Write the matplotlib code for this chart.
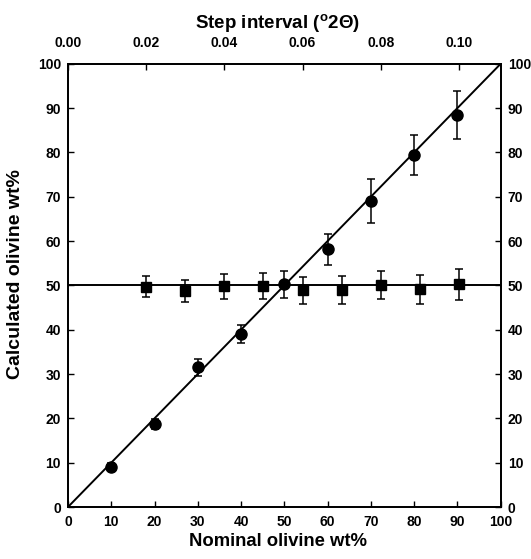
import matplotlib
matplotlib.use('Agg')
import matplotlib.pyplot as plt
import matplotlib as mpl

mpl.rcParams['font.family'] = 'Liberation Sans'
mpl.rcParams['mathtext.fontset'] = 'custom'
mpl.rcParams['mathtext.rm'] = 'Liberation Sans'
mpl.rcParams['mathtext.bf'] = 'Liberation Sans:bold'

# olivine wt% series (circles), bottom axis
nominal = [10, 20, 30, 40, 50, 60, 70, 80, 90]
calc_olv = [9.0, 18.7, 31.5, 39.1, 50.2, 58.1, 69.1, 79.4, 88.5]
calc_olv_err = [0.9, 1.2, 2.0, 2.0, 3.0, 3.4, 5.0, 4.5, 5.4]

# step interval series (squares), top axis
step = [0.02, 0.03, 0.04, 0.05, 0.06, 0.07, 0.08, 0.09, 0.10]
calc_step = [49.7, 48.7, 49.8, 49.8, 48.9, 48.9, 50.1, 49.1, 50.2]
calc_step_err = [2.4, 2.5, 2.8, 2.9, 3.1, 3.2, 3.2, 3.2, 3.4]

top_ticks = [0.00, 0.02, 0.04, 0.06, 0.08, 0.10]
top_labels = ['0.00', '0.02', '0.04', '0.06', '0.08', '0.10']

TICKFS = 10

fig = plt.figure(figsize=(5.31, 5.59), dpi=100)
ax = fig.add_axes([0.128, 0.093, 0.815, 0.793])

ax.plot([0, 100], [0, 100], color='black', lw=1.4)
ax.plot([0, 100], [50, 50], color='black', lw=1.4)
ax.errorbar(nominal, calc_olv, yerr=calc_olv_err, fmt='o', color='black',
            ms=8, elinewidth=1.1, capsize=3, capthick=1.1)
ax.set_xlim(0, 100)
ax.set_ylim(0, 100)
ax.set_xticks(range(0, 101, 10))
ax.set_yticks(range(0, 101, 10))
ax.tick_params(direction='in', length=4, width=1, labelsize=TICKFS)
ax.tick_params(axis='y', right=True, labelright=True, pad=5)
ax.tick_params(axis='x', pad=6)
for t in ax.xaxis.get_major_ticks():
    t.label1.set_fontweight('bold')
for t in ax.yaxis.get_major_ticks():
    t.label1.set_fontweight('bold')
    t.label2.set_fontweight('bold')

ax.set_xlabel('Nominal olivine wt%', fontsize=13.3, fontweight='bold')
ax.xaxis.set_label_coords(0.485, -0.058)
ax.set_ylabel('Calculated olivine wt%', fontsize=14, fontweight='bold')
ax.yaxis.set_label_coords(-0.102, 0.526)

ax2 = ax.twiny()
ax2.errorbar(step, calc_step, yerr=calc_step_err, fmt='s', color='black',
             ms=7, elinewidth=1.1, capsize=3, capthick=1.1)
ax2.set_xlim(0, 0.1107)
ax2.set_xticks(top_ticks)
ax2.set_xticklabels(top_labels, fontweight='bold', fontsize=TICKFS)
ax2.tick_params(direction='in', length=4, width=1, pad=10)
ax2.set_xlabel(r'Step interval ($\mathbf{^{o}}$2Θ)', fontsize=13.5, fontweight='bold')
ax2.xaxis.set_label_coords(0.485, 1.08)

for a in (ax, ax2):
    for s in a.spines.values():
        s.set_linewidth(1.3)

fig.savefig('out.png', dpi=100)
